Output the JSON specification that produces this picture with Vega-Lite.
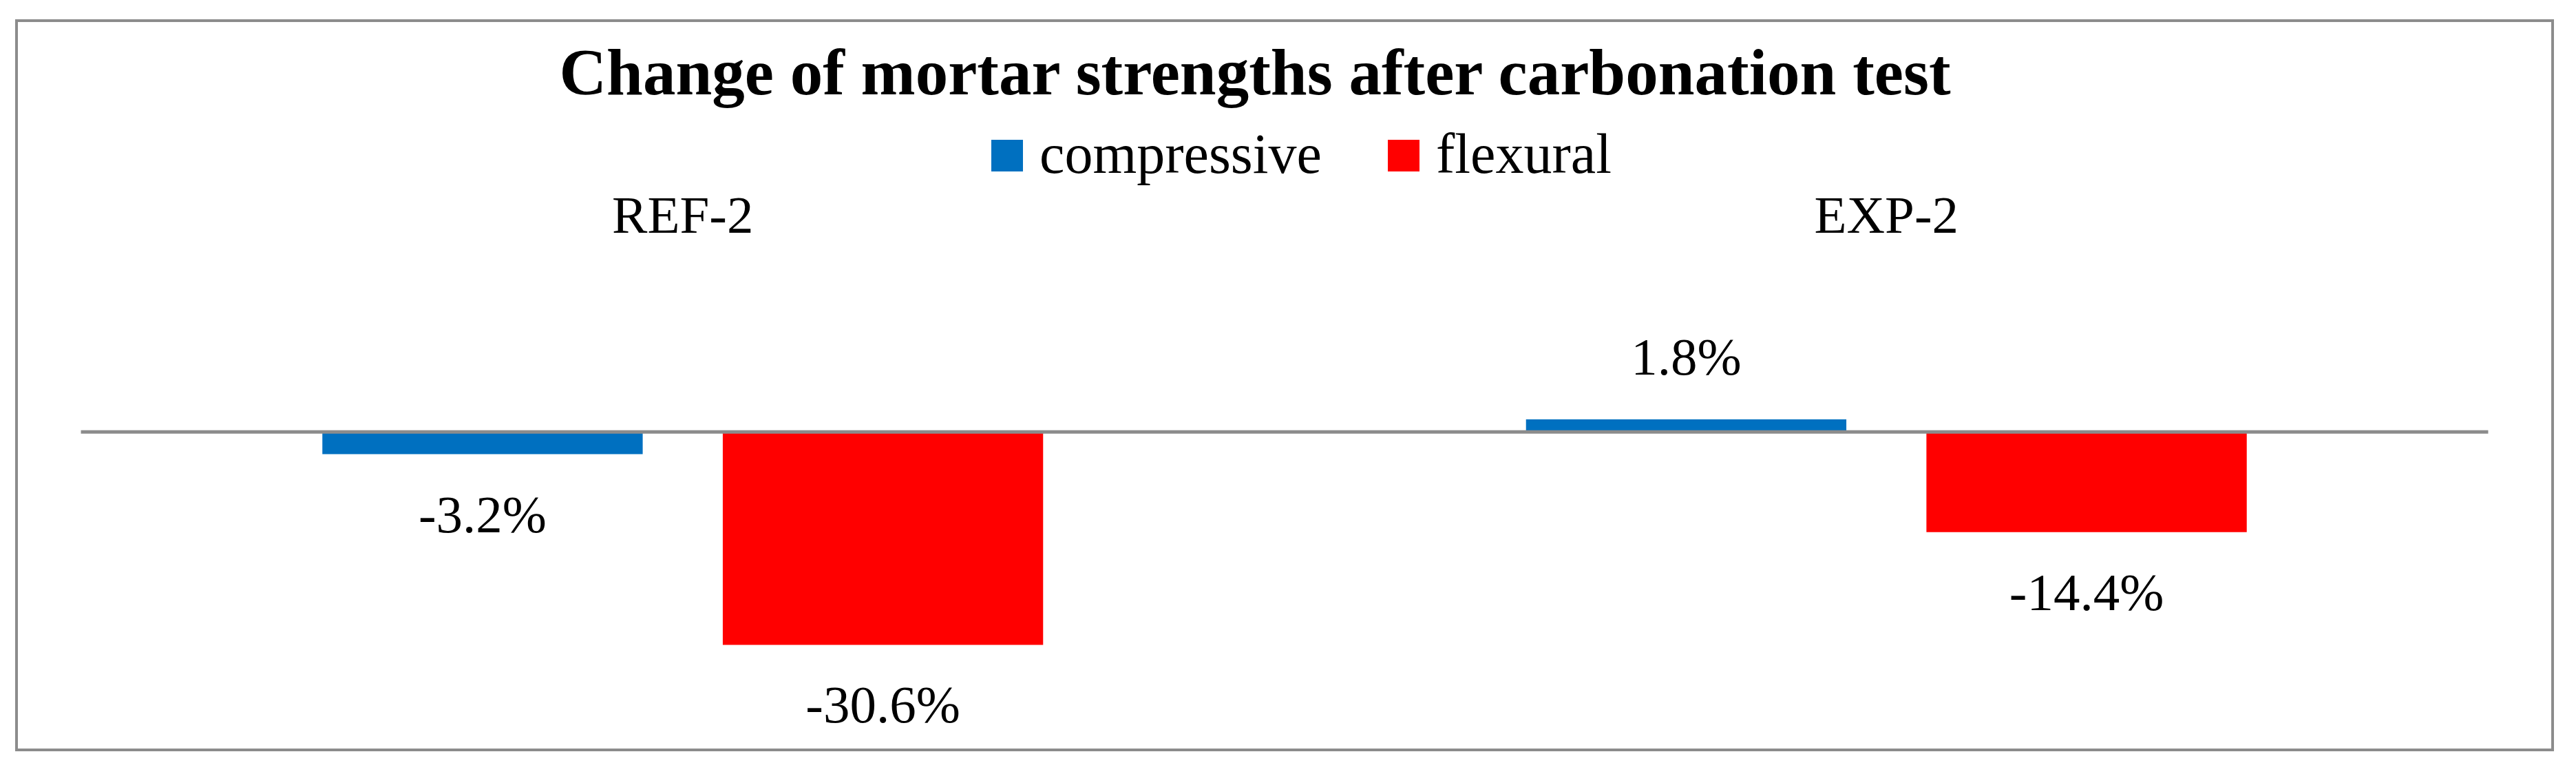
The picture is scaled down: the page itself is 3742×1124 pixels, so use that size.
{
  "$schema": "https://vega.github.io/schema/vega-lite/v6.json",
  "autosize": "none",
  "width": 3684,
  "height": 1059,
  "padding": {"left": 24, "top": 30, "right": 34, "bottom": 35},
  "background": "white",
  "title": {
    "text": "Change of mortar strengths after carbonation test",
    "frame": "group",
    "anchor": "middle",
    "orient": "top",
    "baseline": "alphabetic",
    "offset": 0,
    "dy": 202,
    "dx": -43,
    "font": "Liberation Serif",
    "fontSize": 95,
    "fontWeight": "bold",
    "color": "black"
  },
  "data": {
    "values": [
      {"group": "REF-2", "type": "compressive", "value": -0.032},
      {"group": "REF-2", "type": "flexural", "value": -0.306},
      {"group": "EXP-2", "type": "compressive", "value": 0.018},
      {"group": "EXP-2", "type": "flexural", "value": -0.144}
    ]
  },
  "transform": [
    {"calculate": "replace(format(datum.value, '.1%'), '\u2212', '-')", "as": "label"}
  ],
  "encoding": {
    "x": {
      "field": "group",
      "type": "nominal",
      "sort": ["REF-2", "EXP-2"],
      "scale": {"paddingInner": 0, "paddingOuter": 0.0535},
      "axis": {
        "orient": "top",
        "title": null,
        "domain": false,
        "ticks": false,
        "tickSize": 0,
        "labelPadding": 0,
        "offset": -307,
        "labelBaseline": "alphabetic",
        "labelAngle": 0,
        "labelLimit": 1000,
        "labelFont": "Liberation Serif",
        "labelFontSize": 77,
        "labelColor": "black"
      }
    },
    "xOffset": {
      "field": "type",
      "type": "nominal",
      "sort": ["compressive", "flexural"],
      "scale": {"paddingInner": 0.2, "paddingOuter": 0.603}
    }
  },
  "layer": [
    {
      "mark": {"type": "bar"},
      "encoding": {
        "y": {
          "field": "value",
          "type": "quantitative",
          "scale": {"domain": [-0.457, 0.591], "nice": false, "zero": false},
          "axis": null
        },
        "color": {
          "field": "type",
          "type": "nominal",
          "sort": ["compressive", "flexural"],
          "scale": {"domain": ["compressive", "flexural"], "range": ["#0070C0", "#FF0000"]},
          "legend": {
            "orient": "none",
            "direction": "horizontal",
            "legendX": 1398,
            "legendY": 155,
            "title": null,
            "symbolType": "square",
            "symbolSize": 2116,
            "symbolStrokeWidth": 0,
            "labelFont": "Liberation Serif",
            "labelFontSize": 82,
            "labelColor": "black",
            "labelOffset": 6,
            "columnPadding": 78,
            "labelLimit": 1000
          }
        }
      }
    },
    {
      "mark": {"type": "rule", "color": "#8c8c8c", "strokeWidth": 5},
      "data": {"values": [{"z": 0}]},
      "encoding": {
        "x": {"datum": "REF-2", "bandPosition": 0},
        "x2": {"datum": "EXP-2", "bandPosition": 1},
        "y": {"field": "z", "type": "quantitative"},
        "xOffset": null
      }
    },
    {
      "transform": [{"filter": "datum.value >= 0"}],
      "mark": {"type": "text", "baseline": "middle", "dy": -88, "font": "Liberation Serif", "fontSize": 77, "color": "black"},
      "encoding": {
        "y": {"field": "value", "type": "quantitative"},
        "text": {"field": "label", "type": "nominal"}
      }
    },
    {
      "transform": [{"filter": "datum.value < 0"}],
      "mark": {"type": "text", "baseline": "middle", "dy": 90, "font": "Liberation Serif", "fontSize": 77, "color": "black"},
      "encoding": {
        "y": {"field": "value", "type": "quantitative"},
        "text": {"field": "label", "type": "nominal"}
      }
    }
  ],
  "config": {
    "view": {"stroke": "#8c8c8c", "strokeWidth": 4},
    "legend": {"padding": 0}
  }
}
